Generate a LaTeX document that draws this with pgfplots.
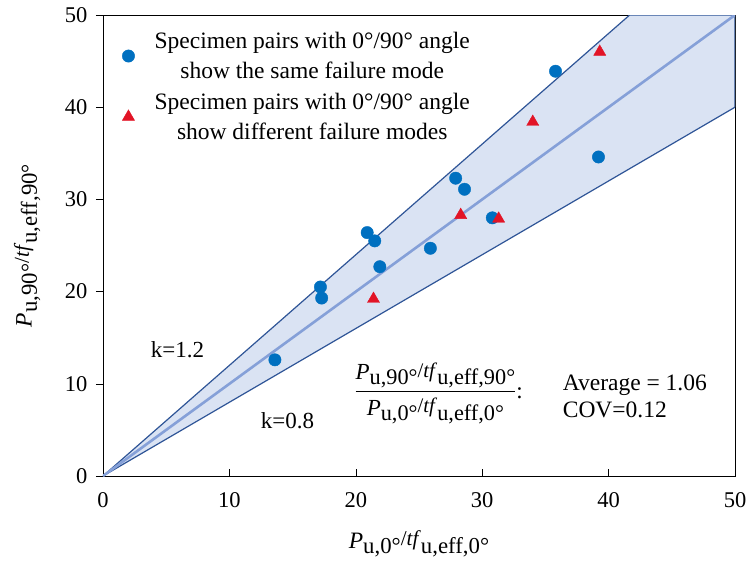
\documentclass[border=0pt]{standalone}
\usepackage{amsmath}
\usepackage{fontspec}
\setmainfont{Liberation Serif}
\usepackage{pgfplots}
\pgfplotsset{compat=1.18}
\definecolor{bandfill}{RGB}{218,227,243}
\definecolor{banddraw}{RGB}{47,85,151}
\definecolor{midline}{RGB}{133,160,216}
\definecolor{ptblue}{RGB}{0,112,192}
\definecolor{ptred}{RGB}{226,20,38}
\newcommand{\lsub}[1]{\raisebox{-0.22em}{\scalebox{0.97}{#1}}}
\newcommand{\lmid}{\raisebox{0.12em}{\scalebox{0.9}{/\textit{tf}}}}
\newcommand{\lblnum}{\textit{P}\lsub{u,90°}\lmid\lsub{u,eff,90°}}
\newcommand{\lblden}{\textit{P}\lsub{u,0°}\lmid\lsub{u,eff,0°}}
\begin{document}
\begin{tikzpicture}
\begin{axis}[
  scale only axis,
  width=632pt, height=461pt,
  xmin=0, xmax=50, ymin=0, ymax=50,
  xtick={0,10,...,50}, ytick={0,10,...,50},
  xtick pos=bottom, ytick pos=left,
  major tick length=7pt,
  ytick style={xshift=-7pt},
  tick style={black, line width=0.6pt},
  axis line style={line width=0.7pt},
  /pgf/number format/assume math mode=true,
  tick label style={font=\fontsize{22.5}{27}\selectfont},
  xticklabel style={yshift=-13pt},
  yticklabel style={xshift=-12pt},
  xlabel={\lblden},
  ylabel={\lblnum},
  label style={font=\fontsize{23.5}{28}\selectfont},
  xlabel style={at={(axis description cs:0.5,-0.148)}, anchor=center},
  ylabel style={at={(axis description cs:-0.12,0.5)}, anchor=center},
  legend style={draw=none, fill=none, at={(rel axis cs:0.027,0.972)}, anchor=north west,
    font=\fontsize{23.5}{30}\selectfont, cells={align=center}, row sep=9pt,
    inner xsep=2pt, /tikz/every odd column/.append style={column sep=18pt}},
  legend cell align=center,
  clip=true,
]
\addplot[fill=bandfill, draw=banddraw, line width=1.2pt, forget plot]
  coordinates {(0,0) (41.667,50) (50,50) (50,40) (0,0)} -- cycle;
\addplot[midline, line width=2.6pt, forget plot] coordinates {(0,0) (50,50)};

\addplot[only marks, mark=*, mark size=6.2pt, ptblue, mark options={draw=ptblue, fill=ptblue}]
  coordinates {
  (13.6,12.6) (17.2,20.5) (17.3,19.3) (20.9,26.4) (21.5,25.5) (21.9,22.7)
  (25.9,24.7) (27.9,32.3) (28.6,31.1) (30.8,28.0) (35.8,43.9) (39.2,34.6)
  };
\addlegendentry{Specimen pairs with 0°/90° angle\\show the same failure mode}
\addplot[only marks, mark=triangle*, mark size=7pt, ptred, mark options={draw=ptred, fill=ptred}]
  coordinates {
  (21.4,19.2) (28.3,28.3) (31.3,27.9) (34.0,38.4) (39.3,46.0)
  };
\addlegendentry{Specimen pairs with 0°/90° angle\\show different failure modes}

\node[font=\fontsize{23}{27}\selectfont] at (axis cs:5.9,13.7) {k=1.2};
\node[font=\fontsize{23}{27}\selectfont] at (axis cs:14.6,6.0) {k=0.8};
\node[font=\fontsize{23}{27}\selectfont] at (axis cs:26.55,9.0)
  {$\dfrac{\mbox{\lblnum}}{\mbox{\lblden}}$:};
\node[font=\fontsize{23.5}{27}\selectfont, anchor=west, align=left] at (axis cs:36.1,8.6)
  {Average = 1.06\\COV=0.12};

\coordinate (A) at (rel axis cs:0,0);
\coordinate (B) at (rel axis cs:1,1);
\end{axis}
\pgfresetboundingbox
\path[use as bounding box] ([shift={(-103pt,-87pt)}]A) rectangle ([shift={(15pt,15pt)}]B);
\end{tikzpicture}
\end{document}
